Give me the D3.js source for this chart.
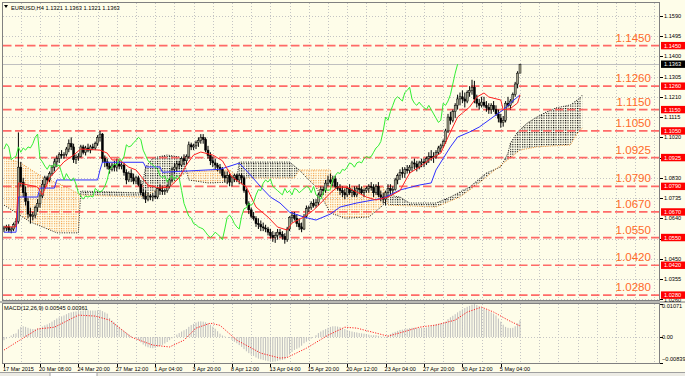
<!DOCTYPE html>
<html>
<head>
<meta charset="utf-8">
<script src="https://cdn.jsdelivr.net/npm/d3@7"></script>
<style>
  body { margin: 0; background: #fefde9; }
  svg { display: block; }
  text { font-family: "Liberation Sans", Arial, sans-serif; }
</style>
</head>
<body>
<svg id="chart" width="685" height="376"></svg>
<script>
// ---- data (prices x10000, one entry per H4 bar, 17 Mar 20:00 .. 6 May 12:00) ----
const opens = [10590,10595,10600,10585,10590,10610,10625,10880,10810,10760,10720,10660,10650,10655,10690,10710,10745,10800,10830,10820,10850,10880,10905,10920,10940,10935,10940,10965,10990,10975,10915,10925,10930,10975,10950,10970,10960,10975,10970,10990,11020,11035,10920,10905,10885,10870,10890,10880,10895,10885,10890,10855,10820,10850,10830,10815,10830,10800,10760,10745,10730,10745,10740,10745,10740,10780,10770,10765,10770,10790,10820,10870,10880,10895,10890,10920,10910,10930,10985,10975,10980,10995,11005,11020,11010,10960,10935,10910,10900,10890,10880,10870,10840,10830,10840,10810,10830,10840,10820,10840,10830,10770,10710,10680,10650,10640,10615,10610,10600,10595,10590,10575,10560,10550,10560,10575,10565,10555,10540,10590,10645,10655,10640,10615,10600,10590,10650,10685,10690,10710,10700,10715,10750,10775,10770,10805,10820,10810,10825,10790,10780,10770,10760,10750,10780,10760,10770,10750,10780,10775,10760,10770,10780,10790,10785,10760,10790,10750,10740,10730,10760,10780,10770,10775,10820,10840,10855,10850,10870,10865,10880,10900,10895,10880,10900,10905,10900,10920,10930,10925,10930,10950,10970,10980,11000,11050,11115,11100,11140,11170,11200,11210,11200,11190,11230,11240,11255,11200,11180,11170,11185,11170,11160,11150,11170,11150,11130,11110,11090,11100,11180,11170,11190,11220,11270,11321];
const highs = [10605,10610,10612,10600,10620,10640,11043,10905,10830,10790,10735,10690,10670,10700,10730,10760,10820,10840,10840,10860,10890,10920,10935,10950,10960,10950,10975,11010,11020,10990,10940,10945,10985,10985,10980,10990,10985,10990,11000,11030,11050,11040,10935,10920,10900,10900,10910,10920,10910,10905,10900,10870,10860,10870,10850,10840,10840,10820,10780,10770,10760,10755,10760,10770,10790,10800,10790,10780,10800,10830,10880,10900,10910,10910,10930,10940,10940,11000,10995,10990,11005,11020,11035,11035,11020,10980,10950,10930,10920,10900,10895,10880,10860,10860,10850,10840,10850,10850,10850,10850,10840,10780,10720,10690,10670,10650,10640,10630,10620,10610,10600,10590,10580,10575,10590,10590,10580,10570,10600,10650,10670,10670,10660,10640,10620,10660,10700,10700,10720,10730,10730,10760,10790,10790,10820,10840,10850,10840,10840,10810,10800,10790,10780,10790,10800,10780,10790,10790,10800,10790,10780,10790,10800,10810,10800,10800,10810,10770,10760,10770,10800,10800,10790,10830,10850,10870,10880,10880,10890,10890,10910,10920,10910,10910,10920,10920,10930,10950,10960,10950,10960,10980,10990,11010,11060,11130,11140,11150,11180,11220,11230,11240,11230,11240,11260,11290,11285,11220,11200,11210,11210,11190,11180,11180,11190,11170,11150,11130,11120,11190,11210,11200,11230,11280,11330,11363];
const lows = [10575,10580,10575,10570,10580,10600,10615,10790,10740,10700,10640,10615,10630,10640,10670,10690,10735,10780,10800,10810,10840,10860,10880,10900,10920,10920,10930,10950,10960,10900,10895,10910,10925,10940,10935,10950,10945,10960,10960,10980,11000,10900,10880,10870,10850,10860,10860,10860,10870,10870,10840,10800,10810,10810,10800,10800,10790,10750,10730,10712,10720,10725,10720,10730,10730,10750,10750,10750,10760,10780,10810,10850,10860,10870,10880,10890,10890,10920,10960,10960,10965,10975,10990,10990,10950,10920,10890,10880,10870,10860,10850,10830,10810,10800,10790,10790,10810,10810,10800,10800,10760,10700,10660,10640,10630,10600,10590,10580,10580,10575,10560,10545,10530,10525,10540,10550,10540,10521,10530,10580,10620,10630,10600,10585,10575,10585,10640,10670,10680,10690,10690,10700,10740,10750,10760,10790,10800,10790,10780,10770,10750,10740,10730,10740,10750,10740,10740,10740,10760,10750,10740,10760,10760,10770,10740,10750,10740,10720,10710,10700,10740,10750,10750,10770,10800,10820,10830,10830,10850,10850,10860,10870,10860,10870,10880,10880,10890,10900,10910,10900,10920,10940,10950,10970,10990,11040,11080,11090,11110,11150,11170,11180,11160,11180,11210,11220,11180,11160,11150,11160,11160,11140,11130,11130,11140,11120,11090,11065,11070,11090,11160,11150,11180,11210,11250,11321];
const closes = [10595,10600,10585,10590,10610,10625,10880,10810,10760,10720,10660,10650,10655,10690,10710,10745,10800,10830,10820,10850,10880,10905,10920,10940,10935,10940,10965,10990,10975,10915,10925,10930,10975,10950,10970,10960,10975,10970,10990,11020,11035,10920,10905,10885,10870,10890,10880,10895,10885,10890,10855,10820,10850,10830,10815,10830,10800,10760,10745,10730,10745,10740,10745,10740,10780,10770,10765,10770,10790,10820,10870,10880,10895,10890,10920,10910,10930,10985,10975,10980,10995,11005,11020,11010,10960,10935,10910,10900,10890,10880,10870,10840,10830,10840,10810,10830,10840,10820,10840,10830,10770,10710,10680,10650,10640,10615,10610,10600,10595,10590,10575,10560,10550,10560,10575,10565,10555,10540,10590,10645,10655,10640,10615,10600,10590,10650,10685,10690,10710,10700,10715,10750,10775,10770,10805,10820,10810,10825,10790,10780,10770,10760,10750,10780,10760,10770,10750,10780,10775,10760,10770,10780,10790,10785,10760,10790,10750,10740,10730,10760,10780,10770,10775,10820,10840,10855,10850,10870,10865,10880,10900,10895,10880,10900,10905,10900,10920,10930,10925,10930,10950,10970,10980,11000,11050,11115,11100,11140,11170,11200,11210,11200,11190,11230,11240,11255,11200,11180,11170,11185,11170,11160,11150,11170,11150,11130,11110,11090,11100,11180,11170,11190,11220,11270,11321,11363];

// Ichimoku lines: [bar, price]
const tenkan = [[0,1.0600],[5,1.0600],[6,1.0806],[14,1.0787],[16,1.0750],[19,1.0830],[25,1.0905],[29,1.0937],[32,1.0965],[40,1.0960],[43,1.0946],[45,1.0914],[48,1.0914],[52,1.0880],[55,1.0867],[60,1.0796],[65,1.0782],[69,1.0787],[73,1.0830],[76,1.0890],[79,1.0937],[82,1.0951],[87,1.0937],[91,1.0910],[95,1.0834],[101,1.0787],[105,1.0693],[110,1.0646],[114,1.0599],[118,1.0585],[120,1.0618],[125,1.0646],[129,1.0679],[132,1.0712],[136,1.0759],[139,1.0787],[143,1.0785],[147,1.0763],[151,1.0740],[155,1.0726],[160,1.0740],[165,1.0770],[169,1.0852],[173,1.0880],[177,1.0913],[182,1.0946],[185,1.1021],[189,1.1115],[191,1.1134],[194,1.1162],[197,1.1209],[200,1.1228],[202,1.1209],[207,1.1195],[208,1.1149],[211,1.1155],[214,1.1181],[215,1.1219]];
const kijun = [[0,1.0575],[5,1.0575],[6,1.0740],[14,1.0740],[15,1.0782],[21,1.0782],[22,1.0820],[39,1.0820],[40,1.0867],[41,1.0903],[58,1.0903],[59,1.0881],[65,1.0881],[66,1.0856],[90,1.0870],[98,1.0899],[102,1.0852],[107,1.0787],[111,1.0740],[115,1.0712],[119,1.0669],[125,1.0646],[130,1.0632],[136,1.0660],[140,1.0693],[147,1.0712],[158,1.0735],[165,1.0773],[173,1.0796],[178,1.0806],[180,1.0867],[186,1.0975],[189,1.1021],[194,1.1045],[198,1.1068],[205,1.1125],[208,1.1149],[211,1.1181],[215,1.1219]];
const spanA = [[0,1.0702],[11,1.0623],[22,1.0572],[31,1.0572],[32,1.0768],[57,1.0759],[59,1.0881],[62,1.0923],[68,1.0937],[73,1.0928],[75,1.0904],[77,1.0820],[85,1.0806],[94,1.0810],[97,1.0829],[98,1.0904],[119,1.0904],[123,1.0867],[127,1.0820],[130,1.0787],[133,1.0726],[136,1.0665],[142,1.0641],[152,1.0646],[158,1.0702],[160,1.0749],[165,1.0740],[169,1.0712],[180,1.0712],[186,1.0740],[194,1.0787],[201,1.0853],[207,1.0881],[210,1.0946],[211,1.0993],[214,1.1045],[218,1.1087],[222,1.1115],[226,1.1139],[230,1.1158],[236,1.1172],[240,1.1205],[241,1.1219]];
const spanB = [[0,1.0927],[7,1.0899],[16,1.0834],[26,1.0787],[32,1.0749],[57,1.0740],[61,1.0759],[69,1.0796],[76,1.0857],[94,1.0867],[98,1.0829],[121,1.0829],[123,1.0867],[136,1.0867],[137,1.0787],[158,1.0787],[160,1.0702],[180,1.0693],[190,1.0740],[198,1.0806],[208,1.0899],[211,1.0923],[215,1.0960],[222,1.0975],[236,1.0984],[239,1.1040],[241,1.1064]];

// MACD main (histogram) per bar and signal line, x1e-5
const macdMain = [-100,-50,0,50,100,120,250,330,350,330,300,270,260,260,280,300,340,380,410,450,500,550,600,640,670,700,740,780,800,820,830,840,850,860,870,870,860,860,860,870,880,840,800,760,620,540,470,400,330,260,200,140,90,40,0,-40,-100,-170,-240,-300,-330,-350,-360,-350,-320,-290,-250,-210,-160,-100,-40,20,80,130,180,220,260,330,390,430,470,500,510,500,480,450,400,340,270,190,110,50,20,0,-30,-90,-150,-200,-260,-320,-390,-460,-520,-570,-610,-660,-700,-720,-740,-760,-780,-790,-800,-790,-770,-750,-740,-720,-650,-570,-480,-420,-380,-340,-280,-200,-150,-100,-50,0,60,130,180,220,260,300,330,350,350,340,320,290,260,230,200,180,160,150,130,120,110,100,80,60,60,60,40,20,20,10,50,100,140,170,200,230,240,260,270,290,300,300,290,300,300,300,310,330,360,390,410,430,440,460,500,580,640,690,740,800,850,900,940,980,1010,1050,1070,1040,1000,960,920,880,840,800,760,700,600,500,400,330,300,290,300,350,440,545];
const macdSignal = [[0,-420],[14,260],[21,320],[31,710],[38,680],[44,550],[53,0],[62,-260],[69,-320],[75,-100],[80,290],[86,450],[90,380],[97,-100],[107,-520],[115,-680],[118,-660],[126,-360],[135,60],[142,320],[147,290],[155,130],[160,30],[166,160],[173,320],[180,390],[188,550],[193,810],[199,970],[204,810],[210,550],[215,361]];

// axes / annotations
const priceTicks = [1.1590,1.1495,1.1400,1.1305,1.1210,1.1115,1.1020,1.0925,1.0830,1.0735,1.0640,1.0545,1.0450,1.0355,1.0260];
const levels = [1.1450,1.1260,1.1150,1.1050,1.0925,1.0790,1.0670,1.0550,1.0420,1.0280];
const bidPrice = 1.1363;
const timeLabels = ["17 Mar 2015","20 Mar 08:00","24 Mar 20:00","27 Mar 12:00","1 Apr 04:00","3 Apr 20:00","8 Apr 12:00","13 Apr 04:00","15 Apr 20:00","20 Apr 12:00","23 Apr 04:00","27 Apr 20:00","30 Apr 12:00","5 May 04:00"];
const timeLabelBars = [0,15,31,47,63,79,95,111,127,143,159,175,191,207];
const macdTicks = [0.01071, 0, -0.00839];
const title = "EURUSD,H4  1.1321 1.1363 1.1321 1.1363";
const macdTitle = "MACD(12,26,9) 0.00545 0.00361";

// ---- scales ----
const svg = d3.select("#chart");
const P = v => v / 10000;
const x = d3.scaleLinear().domain([0, 273]).range([4, 4 + 273 * 2.4]);
const y = d3.scaleLinear().domain([1.0257, 1.1650]).range([300, 3]);
const ym = d3.scaleLinear().domain([-0.00839, 0.01071]).range([363, 304]);
const fmt4 = d3.format(".4f");

svg.append("rect").attr("width", 685).attr("height", 376).attr("fill", "#fefde9");

const defs = svg.append("defs");
defs.append("clipPath").attr("id", "clipMain").append("rect")
    .attr("x", 3).attr("y", 3).attr("width", 656).attr("height", 297);
defs.append("clipPath").attr("id", "clipMacd").append("rect")
    .attr("x", 3).attr("y", 304).attr("width", 656).attr("height", 59);

function dots(id, color) {
  const p = defs.append("pattern").attr("id", id).attr("patternUnits", "userSpaceOnUse")
      .attr("x", x(0) - 0.5).attr("y", 0).attr("width", 2.4).attr("height", 2.4);
  p.append("rect").attr("width", 1.1).attr("height", 1.1).attr("fill", color);
}
dots("dotBlack", "#000");
dots("dotOrange", "#f39a3c");

// ---- grid ----
const gridV = d3.range(7, 274, 8);
function grid(g, y0, y1, hvals, yscale) {
  g.selectAll(".gv").data(gridV).enter().append("line")
      .attr("x1", d => Math.round(x(d)) + 0.5).attr("x2", d => Math.round(x(d)) + 0.5)
      .attr("y1", y0).attr("y2", y1)
      .attr("stroke", "#c4c4c4").attr("stroke-dasharray", "1,2");
  g.selectAll(".gh").data(hvals).enter().append("line")
      .attr("x1", 3).attr("x2", 659)
      .attr("y1", d => Math.round(yscale(d)) + 0.5).attr("y2", d => Math.round(yscale(d)) + 0.5)
      .attr("stroke", "#c4c4c4").attr("stroke-dasharray", "1,2");
}
grid(svg.append("g"), 3, 300, priceTicks, y);
grid(svg.append("g"), 304, 363, [0], ym);

const main = svg.append("g").attr("clip-path", "url(#clipMain)");

// ---- Ichimoku cloud ----
const pt = d => [x(d[0]), y(d[1])];
const cloudPath = "M" + spanA.map(pt).join("L") + "L" + spanB.slice().reverse().map(pt).join("L") + "Z";
const bPts = spanB.map(pt);
defs.append("clipPath").attr("id", "aboveB").append("path")
    .attr("d", "M" + bPts.join("L") + "L" + [x(241), 0] + "L" + [x(0), 0] + "Z");
defs.append("clipPath").attr("id", "belowB").append("path")
    .attr("d", "M" + bPts.join("L") + "L" + [x(241), 400] + "L" + [x(0), 400] + "Z");
main.append("g").attr("clip-path", "url(#aboveB)").append("path")
    .attr("d", cloudPath).attr("fill", "url(#dotBlack)");
main.append("g").attr("clip-path", "url(#belowB)").append("path")
    .attr("d", cloudPath).attr("fill", "url(#dotOrange)");

const lineP = d3.line().x(d => x(d[0])).y(d => y(d[1]));
main.append("path").attr("d", lineP(spanA)).attr("fill", "none")
    .attr("stroke", "#222").attr("stroke-width", 1).attr("stroke-dasharray", "1,1.4");
main.append("path").attr("d", lineP(spanB)).attr("fill", "none")
    .attr("stroke", "#f39a3c").attr("stroke-width", 1).attr("stroke-dasharray", "1,1.4");

// ---- horizontal levels ----
main.selectAll(".lvl").data(levels).enter().append("line")
    .attr("x1", 3).attr("x2", 659)
    .attr("y1", d => y(d)).attr("y2", d => y(d))
    .attr("stroke", "#ff5050").attr("stroke-width", 1.7).attr("stroke-dasharray", "8.5,3.5")
    .attr("stroke-opacity", 0.85);
main.selectAll(".lvlt").data(levels).enter().append("text")
    .attr("x", 651).attr("y", d => y(d) - 4)
    .attr("text-anchor", "end").attr("font-size", 11.6).attr("fill", "#ff6a2a")
    .text(d => fmt4(d));

// bid line
main.append("line").attr("x1", 3).attr("x2", 659)
    .attr("y1", Math.round(y(bidPrice)) + 0.5).attr("y2", Math.round(y(bidPrice)) + 0.5)
    .attr("stroke", "#c0c0c0");

// ---- candles ----
const bars = d3.range(closes.length);
main.selectAll(".wick").data(bars).enter().append("line")
    .attr("x1", i => x(i)).attr("x2", i => x(i))
    .attr("y1", i => y(P(highs[i]))).attr("y2", i => y(P(lows[i])))
    .attr("stroke", "#000").attr("stroke-width", 1);
main.selectAll(".body").data(bars).enter().append("rect")
    .attr("x", i => x(i) - 1).attr("width", 2)
    .attr("y", i => y(P(Math.max(opens[i], closes[i]))))
    .attr("height", i => Math.max(0.8, Math.abs(y(P(opens[i])) - y(P(closes[i])))))
    .attr("fill", i => closes[i] >= opens[i] ? "#a4a48c" : "#000")
    .attr("stroke", "#000").attr("stroke-width", 0.5);

// ---- Ichimoku lines ----
main.append("path").attr("d", lineP(kijun)).attr("fill", "none").attr("stroke", "#3030ff").attr("stroke-width", 1);
main.append("path").attr("d", lineP(tenkan)).attr("fill", "none").attr("stroke", "#ff2020").attr("stroke-width", 1);
const chikou = d3.line().x(i => x(i - 26)).y(i => y(P(closes[i])));
main.append("path").attr("d", chikou(d3.range(26, closes.length))).attr("fill", "none")
    .attr("stroke", "#33ee33").attr("stroke-width", 1);

// ---- frames ----
svg.append("rect").attr("x", 2.5).attr("y", 2.5).attr("width", 657).attr("height", 298)
    .attr("fill", "none").attr("stroke", "#808080");
svg.append("rect").attr("x", 2.5).attr("y", 303.5).attr("width", 657).attr("height", 60)
    .attr("fill", "none").attr("stroke", "#808080");
svg.append("line").attr("x1", 0).attr("x2", 685).attr("y1", 302).attr("y2", 302)
    .attr("stroke", "#a0a0a0").attr("stroke-width", 1.5);

// title
svg.append("path").attr("d", "M4,5L8,5L6,8Z").attr("fill", "#000");
svg.append("text").attr("x", 11).attr("y", 9.5).attr("font-size", 5.7).text(title);

// ---- price axis ----
const ax = svg.append("g");
ax.selectAll(".pt").data(priceTicks).enter().append("line")
    .attr("x1", 660).attr("x2", 663).attr("y1", d => Math.round(y(d)) + 0.5).attr("y2", d => Math.round(y(d)) + 0.5)
    .attr("stroke", "#000");
ax.selectAll(".ptl").data(priceTicks).enter().append("text")
    .attr("x", 664).attr("y", d => Math.min(y(d) + 2, 296) + (y(d) > 297 ? 6 : 0))
    .attr("font-size", 5.6).text(d => fmt4(d));
const lv = ax.selectAll(".lvb").data(levels).enter().append("g");
lv.append("rect").attr("x", 661).attr("y", d => y(d) - 3.7).attr("width", 24).attr("height", 7.4).attr("fill", "#ff0000");
lv.append("text").attr("x", 664).attr("y", d => y(d) + 2).attr("font-size", 5.6).attr("fill", "#fff").text(d => fmt4(d));
ax.append("rect").attr("x", 661).attr("y", y(bidPrice) - 3.7).attr("width", 24).attr("height", 7.4).attr("fill", "#000");
ax.append("text").attr("x", 664).attr("y", y(bidPrice) + 2).attr("font-size", 5.6).attr("fill", "#fff").text(fmt4(bidPrice));

// ---- MACD pane ----
const mp = svg.append("g").attr("clip-path", "url(#clipMacd)");
mp.selectAll(".hb").data(bars).enter().append("line")
    .attr("x1", i => x(i)).attr("x2", i => x(i))
    .attr("y1", ym(0)).attr("y2", i => ym(macdMain[i] / 1e5))
    .attr("stroke", "#bdbdbd").attr("stroke-width", 1);
mp.append("path")
    .attr("d", d3.line().x(d => x(d[0])).y(d => ym(d[1] / 1e5))(macdSignal))
    .attr("fill", "none").attr("stroke", "#ff2020").attr("stroke-width", 1).attr("stroke-dasharray", "1.2,1.4");
svg.append("text").attr("x", 4).attr("y", 310).attr("font-size", 5.7).text(macdTitle);
const mfmt = d => d === 0 ? "0.00" : d3.format(".5f")(d);
svg.selectAll(".mt").data(macdTicks).enter().append("text")
    .attr("x", 662).attr("y", d => Math.min(361, Math.max(308, ym(d) + 2)))
    .attr("font-size", 5.6).text(mfmt);
svg.selectAll(".mtk").data(macdTicks).enter().append("line")
    .attr("x1", 660).attr("x2", 663).attr("y1", d => Math.round(ym(d)) + 0.5).attr("y2", d => Math.round(ym(d)) + 0.5)
    .attr("stroke", "#000");

// ---- time axis ----
const ta = svg.append("g");
ta.selectAll(".tt").data(timeLabelBars).enter().append("line")
    .attr("x1", i => Math.round(x(i)) + 0.5).attr("x2", i => Math.round(x(i)) + 0.5)
    .attr("y1", 364).attr("y2", 367).attr("stroke", "#000");
ta.selectAll(".tl").data(timeLabelBars).enter().append("text")
    .attr("x", i => x(i) - 1).attr("y", 370.5).attr("font-size", 5.5)
    .text((i, k) => timeLabels[k]);

// bottom tab strip
svg.append("rect").attr("x", 0).attr("y", 372).attr("width", 685).attr("height", 4).attr("fill", "#ecebe4");
svg.append("line").attr("x1", 0).attr("x2", 685).attr("y1", 372.5).attr("y2", 372.5).attr("stroke", "#a0a0a0");
svg.append("rect").attr("x", 50).attr("y", 372.5).attr("width", 47).attr("height", 4).attr("fill", "#ffffff").attr("stroke", "#a0a0a0");
</script>
</body>
</html>
